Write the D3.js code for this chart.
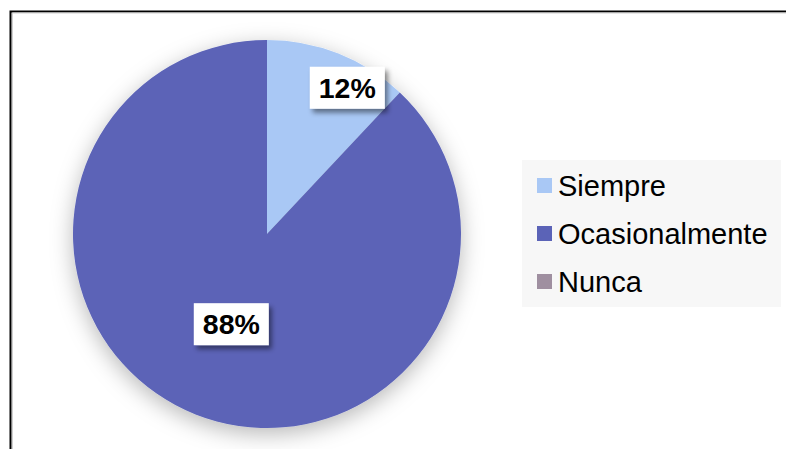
<!DOCTYPE html>
<html>
<head>
<meta charset="utf-8">
<script src="https://cdn.jsdelivr.net/npm/d3@7/dist/d3.min.js"></script>
<style>
  html, body { margin: 0; padding: 0; background: #fff; }
  svg { display: block; }
</style>
</head>
<body>
<svg id="chart" width="786" height="449"></svg>
<script>
// Survey answers and their shares (percent)
const categories = ["Siempre", "Ocasionalmente", "Nunca"];
const values = [12, 88, 0];
const colors = ["#a9c8f5", "#5b63b7", "#9f8fa0"];

const svg = d3.select("#chart");
const W = 786, H = 449;
const FONT = "Liberation Sans, Arial, sans-serif";

const defs = svg.append("defs");
// soft glow under the pie
const pieShadow = defs.append("filter").attr("id", "pieShadow")
  .attr("x", "-30%").attr("y", "-30%").attr("width", "160%").attr("height", "160%");
pieShadow.append("feDropShadow")
  .attr("dx", 0).attr("dy", 6).attr("stdDeviation", 11)
  .attr("flood-color", "#000").attr("flood-opacity", 0.28);
// offset shadow for the value boxes
const boxShadow = defs.append("filter").attr("id", "boxShadow")
  .attr("x", "-30%").attr("y", "-30%").attr("width", "160%").attr("height", "160%");
boxShadow.append("feDropShadow")
  .attr("dx", 3).attr("dy", 4).attr("stdDeviation", 2.5)
  .attr("flood-color", "#000").attr("flood-opacity", 0.45);

// chart frame
svg.append("path")
  .attr("d", `M10.5,${H + 5} V11.5 H${W + 5}`)
  .attr("fill", "none").attr("stroke", "#000").attr("stroke-width", 2);
svg.append("path")
  .attr("d", `M12.5,${H + 5} V13 H${W + 5}`)
  .attr("fill", "none").attr("stroke", "#d0d0d0").attr("stroke-width", 1);

// pie
const cx = 267, cy = 234, r = 194;
const pie = d3.pie().sort(null).value(d => d.value);
const data = categories.map((c, i) => ({ name: c, value: values[i], color: colors[i] }));
const arcs = pie(data);
const arc = d3.arc().innerRadius(0).outerRadius(r);

const g = svg.append("g").attr("transform", `translate(${cx},${cy})`);
g.append("g").attr("filter", "url(#pieShadow)")
  .selectAll("path").data(arcs.filter(a => a.data.value > 0)).join("path")
  .attr("d", arc)
  .attr("fill", d => d.data.color);

// value labels: placed along each slice's mid-angle, with a small best-fit nudge
const labelLayout = {
  "Siempre": { radius: 0.86, angleShift: 0.125 },
  "Ocasionalmente": { radius: 0.5, angleShift: 0 }
};
arcs.filter(a => a.data.value > 0).forEach(a => {
  const lay = labelLayout[a.data.name];
  const mid = (a.startAngle + a.endAngle) / 2 + lay.angleShift;
  const lr = r * lay.radius;
  const lx = Math.sin(mid) * lr, ly = -Math.cos(mid) * lr;
  const lg = g.append("g").attr("transform", `translate(${lx},${ly})`);
  const bw = 75, bh = 42;
  lg.append("rect")
    .attr("x", -bw / 2).attr("y", -bh / 2).attr("width", bw).attr("height", bh)
    .attr("fill", "#fff").attr("filter", "url(#boxShadow)");
  lg.append("text")
    .attr("text-anchor", "middle").attr("dy", "0.36em")
    .attr("font-family", FONT)
    .attr("font-weight", "bold").attr("font-size", 28.5)
    .attr("fill", "#000")
    .text(a.data.value + "%");
});

// legend
const legend = svg.append("g").attr("transform", "translate(522,160)");
legend.append("rect").attr("width", 259).attr("height", 147).attr("fill", "#f7f7f7");
const rowY = d3.scalePoint().domain(categories).range([26, 122]);
const items = legend.selectAll("g.item").data(data).join("g")
  .attr("class", "item")
  .attr("transform", d => `translate(0,${rowY(d.name)})`);
items.append("rect")
  .attr("x", 15).attr("y", -8).attr("width", 15).attr("height", 15)
  .attr("fill", d => d.color);
items.append("text")
  .attr("x", 36).attr("dy", "0.35em")
  .attr("font-family", FONT)
  .attr("font-size", 29).attr("fill", "#000")
  .text(d => d.name);
</script>
</body>
</html>
